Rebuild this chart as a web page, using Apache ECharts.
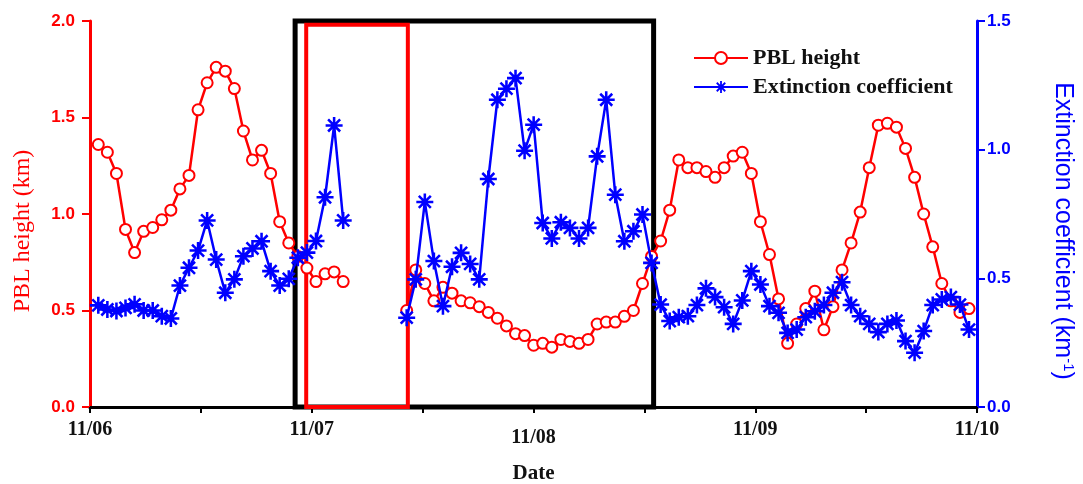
<!DOCTYPE html>
<html>
<head>
<meta charset="utf-8">
<script src="https://cdn.jsdelivr.net/npm/echarts@6/dist/echarts.min.js"></script>
<style>
  html, body { margin: 0; padding: 0; background: #fff; }
  #main { width: 1083px; height: 484px; }
</style>
</head>
<body>
<div id="main"></div>
<script>
// hourly samples, first at 11/06 01:00 (hours since 11/06 00:00)
var hours = [];
for (var h = 1; h <= 97; h++) hours.push(h);

var dayLabels = ['11/06', '11/07', '11/08', '11/09', '11/10'];

// PBL height (km), null = no data
var pbl = [
  1.36, 1.32, 1.21, 0.92, 0.80, 0.91, 0.93, 0.97, 1.02, 1.13, 1.20, 1.54,
  1.68, 1.76, 1.74, 1.65, 1.43, 1.28, 1.33, 1.21, 0.96, 0.85, 0.78, 0.72,
  0.65, 0.69, 0.70, 0.65, null, null, null, null, null, null, 0.50, 0.71,
  0.64, 0.55, 0.62, 0.59, 0.55, 0.54, 0.52, 0.49, 0.46, 0.42, 0.38, 0.37,
  0.32, 0.33, 0.31, 0.35, 0.34, 0.33, 0.35, 0.43, 0.44, 0.44, 0.47, 0.50,
  0.64, 0.78, 0.86, 1.02, 1.28, 1.24, 1.24, 1.22, 1.19, 1.24, 1.30, 1.32,
  1.21, 0.96, 0.79, 0.56, 0.33, 0.43, 0.51, 0.60, 0.40, 0.52, 0.71, 0.85,
  1.01, 1.24, 1.46, 1.47, 1.45, 1.34, 1.19, 1.00, 0.83, 0.64, 0.55, 0.49,
  0.51
];

// extinction coefficient (km-1)
var ext = [
  0.395, 0.379, 0.373, 0.385, 0.399, 0.375, 0.375, 0.353, 0.344, 0.472, 0.541, 0.608,
  0.725, 0.573, 0.444, 0.496, 0.586, 0.616, 0.644, 0.528, 0.472, 0.498, 0.580, 0.600,
  0.645, 0.815, 1.094, 0.725, null, null, null, null, null, null, 0.347, 0.496,
  0.797, 0.567, 0.392, 0.545, 0.599, 0.556, 0.496, 0.886, 1.194, 1.237, 1.278, 0.996,
  1.097, 0.715, 0.655, 0.718, 0.696, 0.655, 0.696, 0.974, 1.194, 0.825, 0.644, 0.683,
  0.748, 0.560, 0.398, 0.334, 0.349, 0.353, 0.396, 0.461, 0.427, 0.388, 0.323, 0.414,
  0.528, 0.476, 0.392, 0.366, 0.288, 0.301, 0.349, 0.372, 0.396, 0.444, 0.485, 0.396,
  0.353, 0.323, 0.291, 0.323, 0.336, 0.256, 0.211, 0.295, 0.396, 0.418, 0.427, 0.398,
  0.301
];

// highlighted periods, hours since 11/06 00:00
var blackBox = [22.2, 61.0];
var redBox = [23.4, 34.4];

var RED = '#ff0000';
var BLUE = '#0000ff';
var SERIF = '"Liberation Serif", "Times New Roman", serif';
var SANS = '"Liberation Sans", Arial, sans-serif';

var starPath = 'path://M-10,-1.5H10V1.5H-10Z M-1.5,-10H1.5V10H-1.5Z ' +
  'M6.01,8.13L-8.13,-6.01L-6.01,-8.13L8.13,6.01Z ' +
  'M8.13,-6.01L-6.01,8.13L-8.13,6.01L6.01,-8.13Z';

function pairs(vals) {
  return vals.map(function (v, i) { return [hours[i], v === null ? '-' : v]; });
}

var chart = echarts.init(document.getElementById('main'));

var option = {
  animation: false,
  grid: { left: 90, right: 106, top: 21, bottom: 77, outerBoundsMode: 'none' },
  legend: {
    orient: 'vertical',
    left: 688,
    top: 42,
    itemWidth: 54,
    itemHeight: 15,
    itemGap: 7,
    data: ['PBL height', 'Extinction coefficient'],
    textStyle: { fontFamily: SERIF, fontWeight: 'bold', fontSize: 22, color: '#111' }
  },
  xAxis: [{
    // date axis
    type: 'value',
    min: 0,
    max: 96,
    interval: 12,
    position: 'bottom',
    name: 'Date',
    nameLocation: 'middle',
    nameGap: 56,
    nameTextStyle: { fontFamily: SERIF, fontWeight: 'bold', fontSize: 21, color: '#111' },
    axisLine: { lineStyle: { color: '#000', width: 3 } },
    axisTick: { length: 6, lineStyle: { color: '#000', width: 2 } },
    axisLabel: {
      margin: 13,
      fontFamily: SERIF,
      fontWeight: 'bold',
      fontSize: 20,
      color: '#111',
      formatter: function (v) {
        if (v % 24 !== 0) return '';
        var s = dayLabels[v / 24];
        return s === '11/08' ? '{low|' + s + '}' : s;
      },
      rich: { low: { fontFamily: SERIF, fontWeight: 'bold', fontSize: 20, color: '#111', padding: [8, 0, 0, 0] } }
    },
    splitLine: { show: false }
  }, {
    // sample axis for the series, also draws the top frame
    type: 'value',
    min: 0.085,
    max: 97.88,
    position: 'top',
    axisLine: { show: true, lineStyle: { color: '#000', width: 3 } },
    axisTick: { show: false },
    axisLabel: { show: false },
    splitLine: { show: false }
  }],
  yAxis: [{
    type: 'value',
    min: 0,
    max: 2,
    interval: 0.5,
    position: 'left',
    name: 'PBL height (km)',
    nameLocation: 'middle',
    nameRotate: 90,
    nameGap: 55,
    nameTextStyle: { fontFamily: SERIF, fontSize: 24, color: RED, padding: [0, 34, 0, 0] },
    axisLine: { show: true, lineStyle: { color: RED, width: 3 } },
    axisTick: { show: true, length: 8, lineStyle: { color: RED, width: 2 } },
    axisLabel: {
      margin: 15, fontFamily: SANS, fontWeight: 'bold', fontSize: 17, color: RED,
      formatter: function (v) { return v.toFixed(1); }
    },
    splitLine: { show: false }
  }, {
    type: 'value',
    min: 0,
    max: 1.5,
    interval: 0.5,
    position: 'right',
    name: 'Extinction coefficient (km{sup|-1})',
    nameLocation: 'middle',
    nameRotate: -90,
    nameGap: 72,
    nameTextStyle: {
      fontFamily: SANS, fontSize: 25, color: BLUE, padding: [0, 0, 0, 34],
      rich: { sup: { fontFamily: SANS, fontSize: 15, color: BLUE, padding: [0, 0, 12, 0] } }
    },
    axisLine: { show: true, lineStyle: { color: BLUE, width: 3 } },
    axisTick: { show: true, length: 8, lineStyle: { color: BLUE, width: 2 } },
    axisLabel: {
      margin: 10, fontFamily: SANS, fontWeight: 'bold', fontSize: 17, color: BLUE,
      formatter: function (v) { return v.toFixed(1); }
    },
    splitLine: { show: false }
  }],
  series: [{
    name: 'PBL height',
    type: 'line',
    xAxisIndex: 1,
    yAxisIndex: 0,
    data: pairs(pbl),
    symbol: 'emptyCircle',
    symbolSize: 11,
    lineStyle: { color: RED, width: 2.5 },
    itemStyle: { color: RED, borderColor: RED, borderWidth: 2 },
    z: 2
  }, {
    name: 'Extinction coefficient',
    type: 'line',
    xAxisIndex: 1,
    yAxisIndex: 1,
    data: pairs(ext),
    symbol: starPath,
    symbolSize: 17,
    lineStyle: { color: BLUE, width: 2.5 },
    itemStyle: { color: BLUE },
    z: 3
  }, {
    // boxes marking the periods
    type: 'line',
    xAxisIndex: 0,
    yAxisIndex: 0,
    data: [],
    z: 5,
    markArea: {
      silent: true,
      data: [
        [{ xAxis: blackBox[0], yAxis: 0, itemStyle: { color: 'rgba(0,0,0,0)', borderColor: '#000', borderWidth: 5 } },
         { xAxis: blackBox[1], yAxis: 2 }],
        [{ xAxis: redBox[0], yAxis: 0, itemStyle: { color: 'rgba(0,0,0,0)', borderColor: RED, borderWidth: 4 } },
         { xAxis: redBox[1], yAxis: 1.98 }]
      ]
    }
  }]
};

chart.setOption(option);
</script>
</body>
</html>
